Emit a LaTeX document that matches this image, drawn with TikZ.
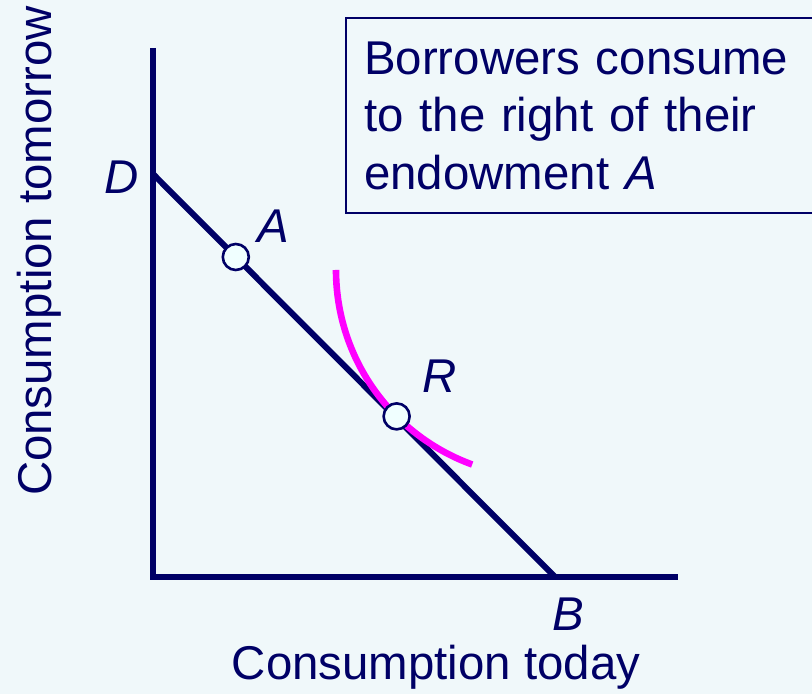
\documentclass[tikz,border=0pt]{standalone}
\usepackage{fontspec}
\setmainfont{Liberation Sans}
\usepackage{xcolor}
\usepackage{tikz}
\usetikzlibrary{calc, positioning}
\definecolor{bgblue}{HTML}{F0F8FA}
\definecolor{navy}{HTML}{000066}
\definecolor{dotfill}{HTML}{F0FFFF}
\definecolor{indiff}{HTML}{FF00FF}

\begin{document}
\begin{tikzpicture}[
  x=0.5pt, y=0.5pt,
  axis/.style={draw=navy, line width=3.3pt},
  budget/.style={draw=navy, line width=3pt},
  curve/.style={draw=indiff, line width=3.3pt},
  dot/.style={circle, draw=navy, fill=dotfill, line width=1.3pt,
    minimum size=13pt, inner sep=0pt},
  lbl/.style={text=navy, font=\fontsize{23.7}{28.5}\selectfont\itshape, inner sep=0pt},
  axlbl/.style={text=navy, font=\fontsize{23.7}{28.5}\selectfont, inner sep=0pt},
  note/.style={rectangle, draw=navy, fill=bgblue, line width=1.2pt,
    text=navy, font=\fontsize{23.7}{28.75}\selectfont, align=left,
    text width=232pt, inner xsep=9pt, inner ysep=0pt,
    minimum height=97.5pt},
]
  \useasboundingbox (0,0) rectangle (812,694);
  \clip (0,0) rectangle (812,694);
  \fill[bgblue] (0,0) rectangle (812,694);

  % axes
  \coordinate (O) at (153,117);
  \coordinate (ytop) at (153,646);
  \coordinate (xend) at (678,117);
  \draw[axis] (ytop) -- (O) -- (xend);

  % budget line
  \coordinate (D) at (153,520);
  \coordinate (B) at (555,117);
  \draw[budget] (D) -- (B);

  % indifference curve (circular arc touching the budget line at R)
  \coordinate (A) at ($(D)!0.206!(B)$);
  \coordinate (icc) at (543,424);
  \coordinate (R) at ($(icc)+(225:207)$);
  \draw[curve] ($(icc)+(180:207)$) arc[start angle=180, end angle=250, radius=207];

  \node[dot] (dotA) at (A) {};
  \node[dot] (dotR) at (R) {};

  \node[lbl] (labD) at ($(D)+(-31,-3)$) {D};
  \node[lbl] (labA) at ($(A)+(37,31)$) {A};
  \node[lbl] (labR) at ($(R)+(43,40)$) {R};
  \node[lbl] (labB) at ($(B)+(13,-37)$) {B};

  \node[axlbl, anchor=base] (xlab) at (436,14) {Consumption today};
  \node[axlbl, anchor=base, rotate=90] (ylab) at (51,443) {Consumption tomorrow};

  \node[note, anchor=north west] (msg) at (345,677) {
    Borrowers consume\\
    to the right of their\\
    endowment \textit{A}
  };
\end{tikzpicture}
\end{document}
